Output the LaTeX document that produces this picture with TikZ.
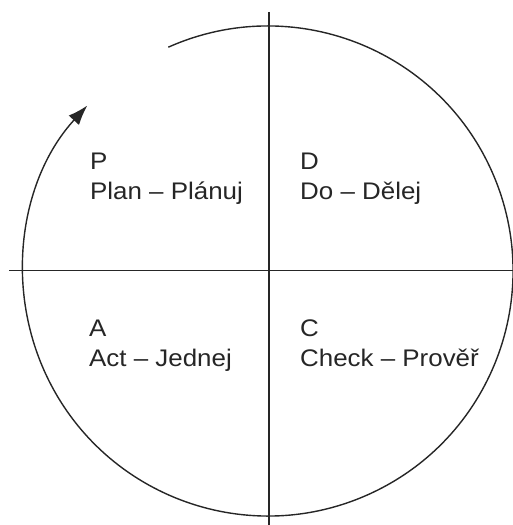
\documentclass[tikz,border=0pt]{standalone}
\usepackage{fontspec}
\setmainfont[FakeStretch=1.08]{Liberation Sans}
\usetikzlibrary{arrows.meta}
\definecolor{ink}{HTML}{262626}
\begin{document}
\begin{tikzpicture}[x=1pt,y=1pt,
  axis/.style={draw=ink,line width=1.8pt},
  ring/.style={draw=ink,line width=1.4pt},
  lbl/.style={anchor=base west,inner sep=0pt,text=ink,font=\fontsize{24}{29}\selectfont}]
\useasboundingbox (0,0) rectangle (513,525);
\coordinate (O) at (268,254);
\coordinate (L) at (9,254.5);
\coordinate (R) at (513,254.5);
\coordinate (T) at (269,513);
\coordinate (B) at (269,0);
\draw[axis] (L) -- (R);
\draw[axis] (T) -- (B);
\draw[ring,-{Latex[length=20pt,width=14pt]}] (O) ++(114:245) arc[start angle=114,end angle=-222.5,radius=245];
\node[lbl] (p) at (90,355) {P};
\node[lbl] (pt) at (90,325) {Plan – Plánuj};
\node[lbl] (d) at (300,355) {D};
\node[lbl] (dt) at (300,325) {Do – Dělej};
\node[lbl] (a) at (89,188) {A};
\node[lbl] (at) at (89,158) {Act – Jednej};
\node[lbl] (c) at (300,188) {C};
\node[lbl] (ct) at (300,158) {Check – Prověř};
\end{tikzpicture}
\end{document}
